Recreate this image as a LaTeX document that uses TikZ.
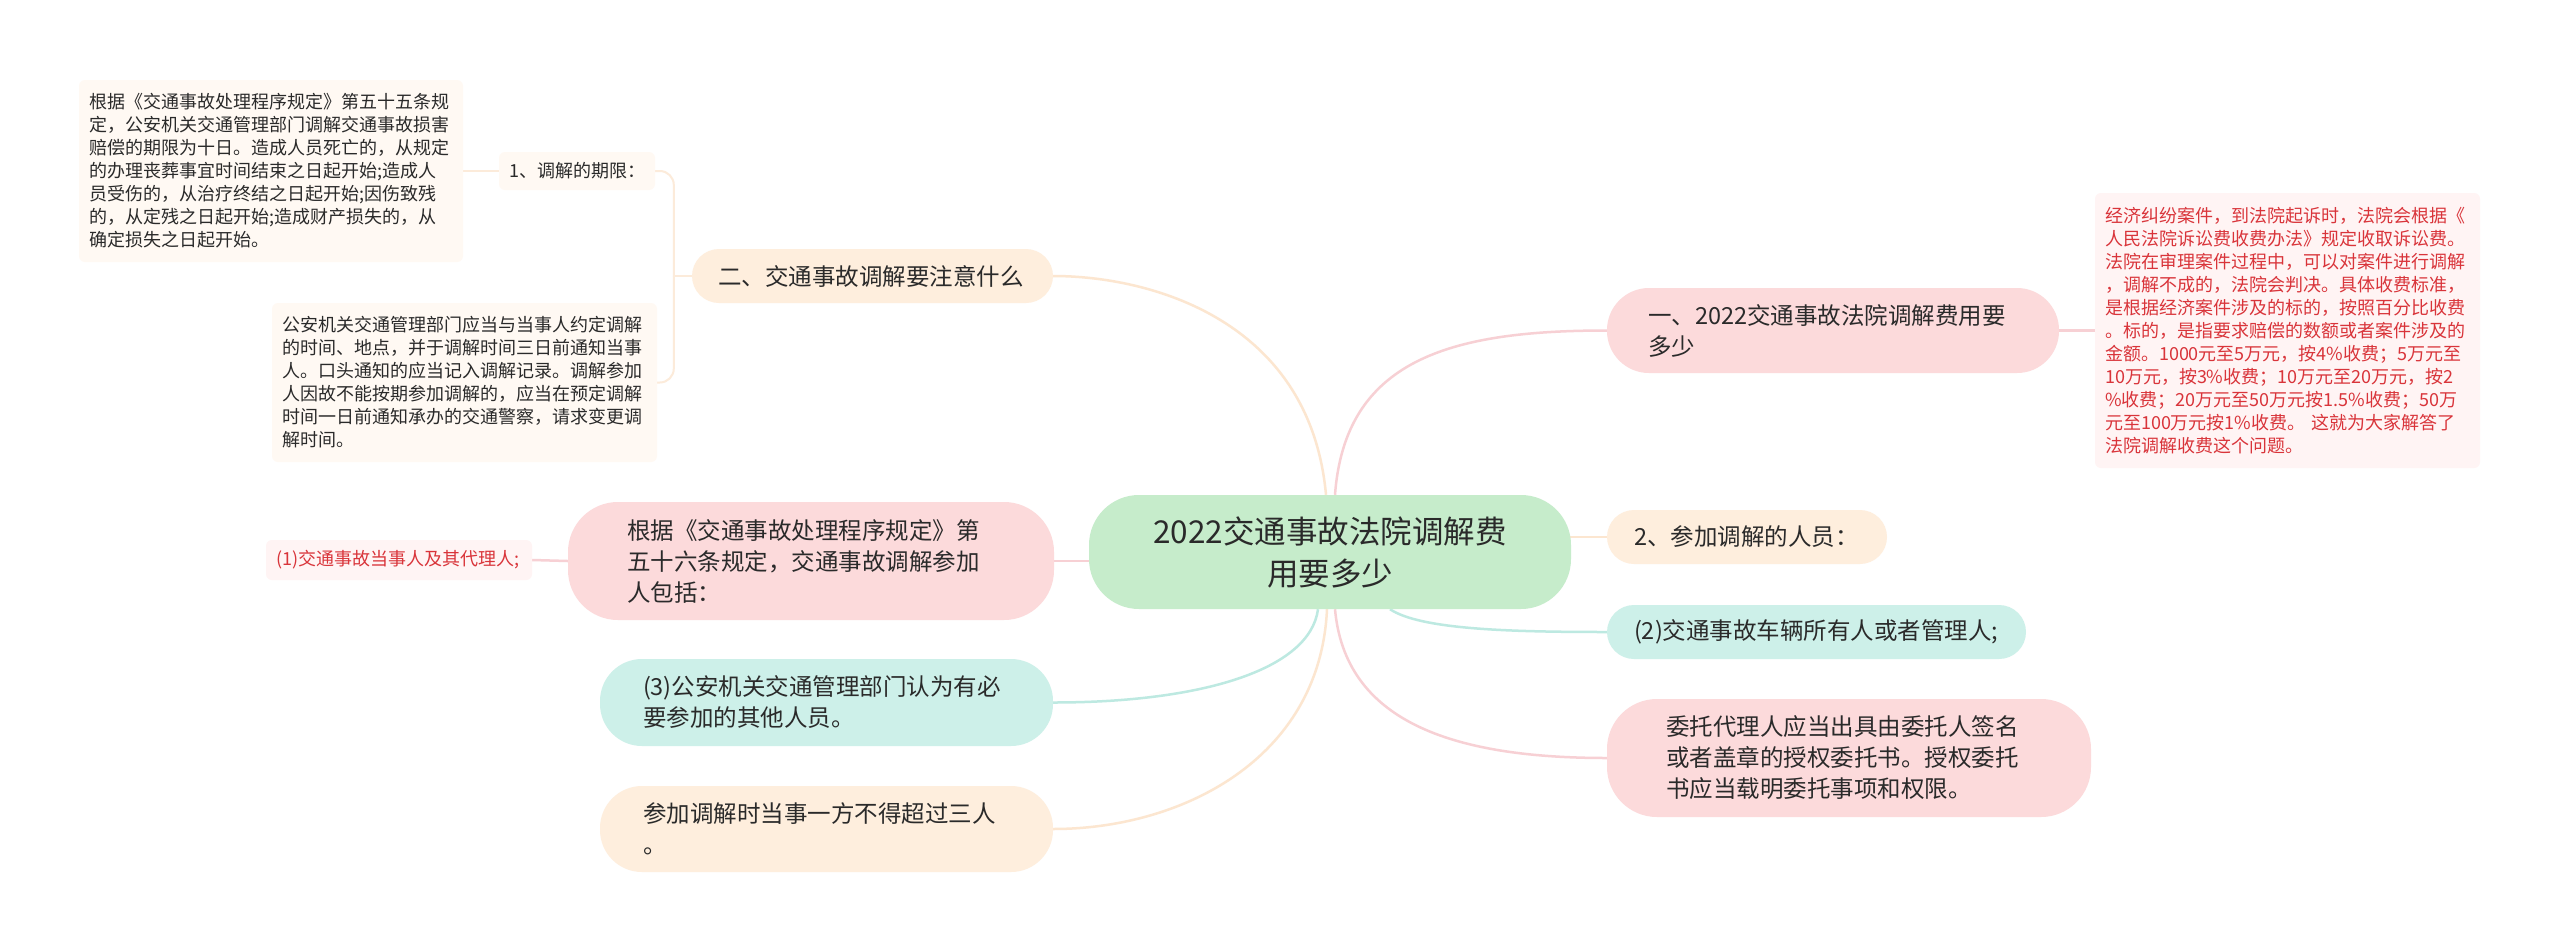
\documentclass[tikz,border=0pt]{standalone}
\usepackage{fontspec}
\newfontfamily\cjk{Noto Sans CJK SC}
\usetikzlibrary{backgrounds,calc}
\definecolor{cgreen}{HTML}{C6ECCB}
\definecolor{cpink}{HTML}{FCDADB}
\definecolor{cpeach}{HTML}{FEEEDD}
\definecolor{cteal}{HTML}{CDF0E9}
\definecolor{lpink}{HTML}{F7D0D4}
\definecolor{lpeach}{HTML}{FCE6D0}
\definecolor{lteal}{HTML}{BDE9E1}
\definecolor{lnote}{HTML}{FCEBDA}
\definecolor{cnote}{HTML}{FFF9F3}
\definecolor{crednote}{HTML}{FFF4F4}
\definecolor{cred}{HTML}{D9343A}
\definecolor{ctext}{HTML}{2A2A2A}
\tikzset{
  mainbox/.style={inner ysep=0pt, align=left, text=ctext,
    font=\cjk\fontsize{23.5}{31}\selectfont},
  pinkbox/.style={mainbox, fill=cpink},
  peachbox/.style={mainbox, fill=cpeach},
  tealbox/.style={mainbox, fill=cteal},
  centerbox/.style={inner ysep=0pt, align=center, text=ctext, fill=cgreen,
    rounded corners=50pt, font=\cjk\fontsize{31.5}{42}\selectfont},
  notebox/.style={inner ysep=0pt, align=left, text=ctext, fill=cnote,
    rounded corners=6pt, font=\cjk\fontsize{18}{23}\selectfont},
  rednote/.style={notebox, fill=crednote, text=cred},
  link/.style={line width=2.5pt},
  notelink/.style={line width=2pt, lnote},
}
\begin{document}
\begin{tikzpicture}[x=1pt,y=-1pt]
\useasboundingbox (0,0) rectangle (2560,951);

% centre
\node[centerbox, minimum width=482pt, minimum height=114pt, text width=440pt, inner xsep=21pt] (E) at (1330,552) {2022交通事故法院调解费\\用要多少};

% right side
\node[pinkbox, rounded corners=42pt, minimum width=452pt, minimum height=85pt, text width=370pt, inner xsep=41pt] (J) at (1833,330.5) {一、2022交通事故法院调解费用要\\多少};
\node[rednote, minimum width=385pt, minimum height=275pt, text width=365pt, inner xsep=10pt] (K) at (2287.5,330.5) {经济纠纷案件，到法院起诉时，法院会根据《\\人民法院诉讼费收费办法》规定收取诉讼费。\\法院在审理案件过程中，可以对案件进行调解\\，调解不成的，法院会判决。具体收费标准，\\是根据经济案件涉及的标的，按照百分比收费\\。标的，是指要求赔偿的数额或者案件涉及的\\金额。1000元至5万元，按4\%收费；5万元至\\10万元，按3\%收费；10万元至20万元，按2\\\%收费；20万元至50万元按1.5\%收费；50万\\元至100万元按1\%收费。 这就为大家解答了\\法院调解收费这个问题。};
\node[peachbox, rounded corners=27pt, minimum width=280pt, minimum height=54pt, text width=226pt, inner xsep=27pt] (L) at (1747,537) {2、参加调解的人员：};
\node[tealbox, rounded corners=27pt, minimum width=419pt, minimum height=54pt, text width=365pt, inner xsep=27pt] (M) at (1816.5,632) {(2)交通事故车辆所有人或者管理人;};
\node[pinkbox, rounded corners=50pt, minimum width=484pt, minimum height=118pt, text width=366pt, inner xsep=59pt] (N) at (1849,758) {委托代理人应当出具由委托人签名\\或者盖章的授权委托书。授权委托\\书应当载明委托事项和权限。};

% left side
\node[peachbox, rounded corners=27pt, minimum width=361pt, minimum height=54pt, text width=309pt, inner xsep=26pt] (D) at (872.5,276) {二、交通事故调解要注意什么};
\node[notebox, minimum width=156pt, minimum height=38pt, text width=140pt, inner xsep=8pt, align=center] (B) at (577,171) {1、调解的期限：};
\node[notebox, minimum width=384pt, minimum height=182pt, text width=364pt, inner xsep=10pt] (A) at (271,171) {根据《交通事故处理程序规定》第五十五条规\\定，公安机关交通管理部门调解交通事故损害\\赔偿的期限为十日。造成人员死亡的，从规定\\的办理丧葬事宜时间结束之日起开始;造成人\\员受伤的，从治疗终结之日起开始;因伤致残\\的，从定残之日起开始;造成财产损失的，从\\确定损失之日起开始。};
\node[notebox, minimum width=385pt, minimum height=159pt, text width=365pt, inner xsep=10pt] (C) at (464.5,382.5) {公安机关交通管理部门应当与当事人约定调解\\的时间、地点，并于调解时间三日前通知当事\\人。口头通知的应当记入调解记录。调解参加\\人因故不能按期参加调解的，应当在预定调解\\时间一日前通知承办的交通警察，请求变更调\\解时间。};
\node[pinkbox, rounded corners=50pt, minimum width=486pt, minimum height=118pt, text width=368pt, inner xsep=59pt] (F) at (811,561) {根据《交通事故处理程序规定》第\\五十六条规定，交通事故调解参加\\人包括：};
\node[rednote, minimum width=266pt, minimum height=40pt, text width=246pt, inner xsep=10pt] (G) at (399,560) {(1)交通事故当事人及其代理人;};
\node[tealbox, rounded corners=42pt, minimum width=453pt, minimum height=87pt, text width=367pt, inner xsep=43pt] (H) at (826.5,702.5) {(3)公安机关交通管理部门认为有必\\要参加的其他人员。};
\node[peachbox, rounded corners=42pt, minimum width=453pt, minimum height=86pt, text width=367pt, inner xsep=43pt] (I) at (826.5,829) {参加调解时当事一方不得超过三人\\。};

\coordinate (jD) at ($(D.west)+(-18,0)$);

\begin{scope}[on background layer]
  \fill[white] (0,0) rectangle (2560,951);
  % from centre
  \draw[link, lpeach] ($(E.north)+(-4,0)$) .. controls ($(E.north)+(-20,-175)$) and ($(D.east)+(97,0)$) .. (D.east);
  \draw[link, lpink] ($(E.north)+(5,0)$) .. controls ($(E.north)+(15,-135)$) and ($(J.west)+(-157,0)$) .. (J.west);
  \draw[link, lteal] ($(E.south)+(-12,0)$) .. controls ($(E.south)+(-20,61)$) and ($(H.east)+(147,0)$) .. (H.east);
  \draw[link, lpeach] ($(E.south)+(-3,0)$) .. controls ($(E.south)+(-10,151)$) and ($(I.east)+(127,0)$) .. (I.east);
  \draw[link, lpink] ($(E.south)+(5,0)$) .. controls ($(E.south)+(15,111)$) and ($(N.west)+(-157,0)$) .. (N.west);
  \draw[link, lteal] ($(E.south)+(60,0)$) .. controls ($(E.south)+(90,20)$) and ($(M.west)+(-100,0)$) .. (M.west);
  \draw[link, lpeach] (L.west) -- (E.center |- L.west);
  \draw[link, lpink] (F.east) -- (E.center |- F.east);
  % second level
  \draw[link, lpink] (J.east) -- (K.west);
  \draw[link, lpink] (G.east) -- (F.west);
  \draw[notelink] (D.west) -- (jD);
  \draw[notelink, rounded corners=14pt] (jD) |- (B.east);
  \draw[notelink, rounded corners=14pt] (jD) |- (C.east);
  \draw[notelink] (A.east) -- (B.west);
\end{scope}
\end{tikzpicture}
\end{document}
